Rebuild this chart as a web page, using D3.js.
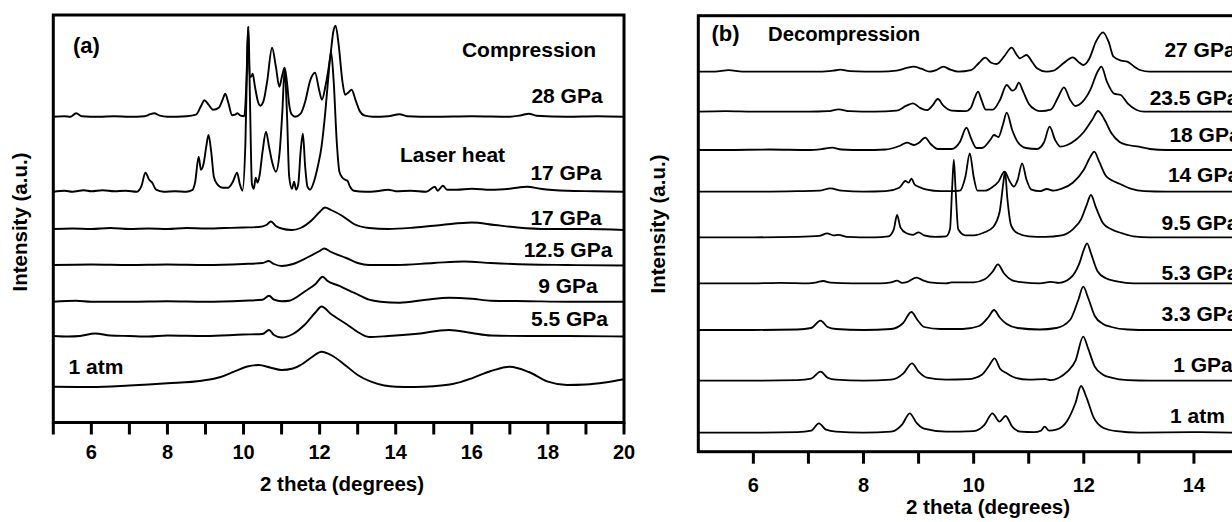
<!DOCTYPE html>
<html>
<head>
<meta charset="utf-8">
<script src="https://cdn.jsdelivr.net/npm/d3@7"></script>
<style>
    body { margin: 0; background: #fff; }
    svg text { font-family: 'Liberation Sans', Arial, sans-serif; font-weight: bold; fill: #000; }
</style>
</head>
<body>
<svg></svg>
<script>
const width = 1232;
const height = 522;

// ---- panel (a): compression, [2theta, intensity above baseline] ----
const a28 = [[5,0],[5.3,0.5],[5.45,0],[5.6,3.5],[5.75,0.5],[6.2,0],[6.6,0.5],[7,0],[7.4,0.5],[7.55,2.5],[7.65,3.5],[7.8,1],[8,0],[8.5,0.5],[8.75,2],[8.9,12],[8.97,16.5],[9.08,12],[9.2,7],[9.35,9],[9.45,17],[9.52,23],[9.6,14],[9.7,1.5],[9.78,2],[9.84,3.5],[9.92,1],[10.02,0.5],[10.08,40],[10.12,90],[10.16,40],[10.2,40],[10.24,43],[10.3,30],[10.38,15],[10.44,11],[10.52,15],[10.62,35],[10.75,69],[10.85,50],[10.94,30],[11.02,42],[11.08,49],[11.14,35],[11.2,12],[11.27,2],[11.36,0],[11.5,3],[11.62,15],[11.75,36],[11.88,44],[11.98,28],[12.06,17],[12.15,30],[12.28,60],[12.36,85],[12.42,91],[12.5,72],[12.6,35],[12.67,22],[12.75,24],[12.84,27],[12.95,16],[13.05,6],[13.19,1],[13.4,0],[13.8,0.5],[14.1,2.5],[14.3,0.5],[15,0],[16,0.5],[17,0],[17.3,1.5],[17.5,3],[17.7,1],[18.5,0],[19.3,0.5],[20,0]];
const a17heat = [[5,0],[5.3,1],[5.5,0],[5.8,1.5],[6,0.5],[6.3,1.5],[6.6,0.5],[6.9,1],[7.2,0],[7.32,6],[7.42,19],[7.52,12],[7.6,9],[7.7,2],[7.9,0],[8.2,0.5],[8.5,0],[8.65,1.5],[8.73,10],[8.82,35],[8.88,22],[8.95,28],[9.02,45],[9.08,56.7],[9.15,40],[9.22,15],[9.3,8],[9.45,4],[9.6,4],[9.72,10],[9.83,19],[9.9,8],[9.97,1],[10.05,50],[10.1,140],[10.13,165],[10.17,90],[10.22,8],[10.27,3],[10.32,14],[10.37,9],[10.42,16],[10.5,40],[10.59,60],[10.67,45],[10.75,30],[10.85,20],[10.95,40],[11.02,80],[11.08,122],[11.14,80],[11.2,15],[11.27,3],[11.33,10],[11.38,2],[11.44,8],[11.5,40],[11.56,58],[11.62,25],[11.68,5],[11.75,2],[11.85,10],[11.95,25],[12.05,45],[12.15,80],[12.23,115],[12.3,140],[12.37,110],[12.45,50],[12.52,20],[12.6,14],[12.67,12],[12.73,11],[12.8,5],[12.9,1],[13.2,0],[13.5,0.5],[13.8,2],[14,0.5],[14.4,1],[14.8,0],[15.03,5],[15.1,1],[15.24,6],[15.35,2],[15.6,2],[16,3],[16.5,2],[17,3],[17.46,5],[17.8,3],[18.5,1],[19.2,0.5],[20,0]];
const a17 = [[5,0],[5.5,0.5],[6,0],[6.5,1],[7,0],[7.5,0.5],[8,0],[8.5,1],[9,0.5],[9.5,1],[10,1.5],[10.4,2],[10.6,4],[10.72,7.5],[10.85,3],[11,0.5],[11.27,-1],[11.5,1],[11.8,9],[12,17],[12.14,21.5],[12.3,19],[12.6,13],[12.9,5],[13.3,1],[13.8,0],[14.5,1.5],[15.2,4],[16,6.5],[16.6,4],[17.2,1.5],[18,0],[19,0],[20,-1]];
const a12_5 = [[5,0],[6,0.5],[7,0],[8,0.5],[9,0],[10,1],[10.5,2],[10.66,4],[10.8,1],[11,-1],[11.3,1],[11.7,8],[12,14],[12.12,16.5],[12.3,13],[12.7,7],[13,2],[13.3,0],[14,0],[15,2],[15.8,3.5],[16.5,2],[17.5,0.5],[18.5,0],[20,-0.5]];
const a9 = [[5,0],[5.6,1],[6,0],[7,0],[8,0.5],[9,0],[10,1],[10.5,2],[10.67,6],[10.8,2],[11,0.5],[11.2,1],[11.6,10],[11.9,18],[12.08,25],[12.2,21],[12.5,16],[12.9,9],[13.3,2],[13.6,0],[14.1,-1],[14.8,2],[15.4,4],[16,3],[16.5,1],[17.5,0.5],[18.5,0],[20,0]];
const a5_5 = [[5,0],[5.4,-0.5],[5.7,0],[6.1,2.5],[6.5,0.5],[7,0],[7.5,-0.5],[8,0.5],[9,0],[10,1.5],[10.5,2],[10.67,6],[10.8,1],[11,-1.5],[11.3,2],[11.6,11],[11.9,24],[12.05,29.5],[12.3,22],[12.7,12],[13,4],[13.3,-1],[13.8,0],[14.5,2],[15.4,6],[16,3],[16.5,0.5],[17.5,0],[18.5,0],[20,-0.5]];
const a1atm = [[5,0.3],[6,0],[7,1.5],[8,3.7],[8.9,6.3],[9.4,10],[9.75,15.3],[10.1,20.5],[10.4,22],[10.7,19.5],[11,17],[11.3,18.5],[11.5,22],[11.8,30],[12.05,35.3],[12.3,32],[12.7,21],[13,12],[13.35,5.3],[13.7,1.5],[14,0.3],[14.5,0],[15,0.8],[15.5,3],[16,8.7],[16.5,16],[17,20.3],[17.5,15],[18,5.3],[18.5,2],[19,2.5],[19.5,4.5],[20,7.7]];

const seriesA = [a28, a17heat, a17, a12_5, a9, a5_5, a1atm];
const offsetsA = [305.8, 230.8, 193.5, 157.5, 120.8, 86.5, 35.5];
const labelsA = ['28 GPa', '17 GPa', '17 GPa', '12.5 GPa', '9 GPa', '5.5 GPa', '1 atm'];
const ticksA = [6, 8, 10, 12, 14, 16, 18, 20];

// ---- panel (b): decompression ----
const b27 = [[5,0],[5.3,0],[5.55,1.5],[5.8,0],[6.5,0],[7.2,0],[7.45,1],[7.58,2],[7.75,0.5],[8.3,0],[8.6,1],[8.8,4],[8.91,5],[9.05,3],[9.2,0],[9.32,1.5],[9.45,5],[9.58,2],[9.72,0],[9.95,1.5],[10.1,9],[10.21,14],[10.32,9],[10.42,7.7],[10.55,15],[10.69,24],[10.78,17],[10.84,13.4],[10.96,16.7],[11.06,10],[11.15,3.4],[11.32,0],[11.45,1],[11.63,8.4],[11.8,14.4],[11.92,9],[11.99,6.7],[12.1,13],[12.22,30],[12.35,39.4],[12.45,30],[12.54,15],[12.68,11],[12.79,10],[12.92,5],[13.02,1.7],[13.2,0],[14,0],[15,0]];
const b23_5 = [[5,0],[5.5,0.5],[6,0],[7,0],[7.35,0.5],[7.55,2.4],[7.75,0.5],[8.2,0],[8.6,1],[8.78,6],[8.9,8.4],[9.02,4],[9.15,1.5],[9.25,6],[9.35,12.7],[9.45,6],[9.6,1],[9.85,0.5],[9.95,4],[10.02,14],[10.08,20],[10.14,12],[10.22,2],[10.35,2],[10.48,12],[10.6,26.7],[10.7,21],[10.76,23],[10.82,29],[10.9,20],[11,8],[11.12,2],[11.22,0.5],[11.4,2],[11.53,14],[11.64,24.4],[11.75,12],[11.85,5.7],[11.98,10],[12.12,22],[12.25,40],[12.32,45],[12.42,30],[12.55,18],[12.67,16.7],[12.8,8],[12.95,2],[13.1,0],[14,0],[15,0]];
const b18 = [[5,0],[5.5,0],[6.3,0.5],[7,0],[7.25,1],[7.43,2.3],[7.6,0.5],[8,0],[8.4,0.5],[8.65,4],[8.79,7.3],[8.92,5],[9,7],[9.12,12.3],[9.22,6],[9.35,1],[9.6,1],[9.75,8],[9.87,22.3],[9.95,12],[10.05,2],[10.15,2],[10.3,10],[10.37,15],[10.45,13],[10.53,25],[10.6,37.3],[10.7,20],[10.8,8],[10.95,2],[11.15,1],[11.28,8],[11.38,23.3],[11.48,10],[11.58,3.3],[11.7,5],[11.85,10],[12,18],[12.15,30],[12.26,39],[12.38,30],[12.5,17],[12.65,8],[12.8,5],[13,3.3],[13.2,1],[13.5,0],[15,0]];
const b14 = [[5,0],[6,0],[6.8,0.5],[7.2,1],[7.4,3.4],[7.6,1],[8,0],[8.4,0.5],[8.65,4],[8.76,10.7],[8.82,9],[8.87,13],[8.93,7],[9,5],[9.15,2],[9.4,0.5],[9.6,0.5],[9.75,1],[9.85,15],[9.93,38.4],[10,15],[10.07,1],[10.2,1],[10.35,5],[10.45,10],[10.56,20],[10.66,10],[10.73,5],[10.8,12],[10.88,28.4],[10.96,12],[11.05,2],[11.2,0.5],[11.33,2.7],[11.45,1],[11.6,3],[11.8,9],[12,22],[12.12,35],[12.19,40],[12.28,30],[12.4,16],[12.5,11.7],[12.65,8],[12.85,3],[13.1,0.5],[13.5,0],[15,0]];
const b9_5 = [[5,0],[6,0],[6.8,0.5],[7.2,1.5],[7.34,4],[7.45,2],[7.55,2.5],[7.7,0.5],[8.2,0],[8.45,1],[8.55,8],[8.61,22.3],[8.67,10],[8.78,4],[8.9,2.5],[9,5],[9.1,2],[9.3,0.5],[9.5,1],[9.57,8],[9.61,50],[9.64,77.3],[9.67,50],[9.72,8],[9.85,2],[10,2],[10.2,5],[10.35,10],[10.47,25],[10.54,55],[10.57,65.6],[10.61,40],[10.68,12],[10.8,4],[11,1],[11.3,0.5],[11.6,2],[11.8,8],[11.95,18],[12.05,32],[12.13,42.3],[12.22,30],[12.35,14],[12.5,8],[12.7,4],[12.9,1],[13.2,0],[15,0]];
const b5_3 = [[5,0],[6,0],[6.5,0.5],[7,0],[7.15,1],[7.27,2.3],[7.4,0.7],[7.8,0],[8.3,0],[8.5,1],[8.61,2.6],[8.7,0.5],[8.8,1.5],[8.96,5.6],[9.08,3],[9.2,1],[9.5,0],[9.6,1],[10,1],[10.2,4],[10.35,12],[10.44,19],[10.55,10],[10.7,3],[10.9,1],[11.2,0],[11.4,1.5],[11.55,0.5],[11.75,5],[11.92,20],[12.01,35],[12.06,40],[12.13,30],[12.25,12],[12.4,5],[12.6,2],[12.9,0],[15,0]];
const b3_3 = [[5,0],[6,0],[6.8,0.5],[7.05,2],[7.22,9.3],[7.35,3],[7.5,1],[8,0],[8.5,1],[8.72,7],[8.87,18],[8.98,10],[9.1,3],[9.4,1],[9.8,1],[10.1,4],[10.27,13],[10.37,20],[10.48,12],[10.6,6],[10.8,2],[11.2,0.5],[11.5,2],[11.75,10],[11.9,30],[11.99,43.3],[12.08,32],[12.2,14],[12.35,6],[12.5,3],[12.8,0.5],[13.2,0],[15,0]];
const b1 = [[5,0],[6,0],[6.8,0.5],[7.05,2],[7.22,9],[7.35,3],[7.5,1],[8,0],[8.5,1],[8.72,7],[8.88,17.4],[9,9],[9.15,3],[9.5,1],[9.9,1.5],[10.15,6],[10.28,15],[10.38,22.4],[10.48,12],[10.6,7.4],[10.75,3],[11,1],[11.3,1.5],[11.4,0.5],[11.55,3],[11.7,9],[11.85,20],[11.99,44],[12.08,32],[12.2,14],[12.35,6],[12.5,3],[12.8,0.5],[13.2,0],[15,0]];
const b1atm = [[5,0],[6,0],[6.8,0.5],[7.05,2],[7.19,9.4],[7.32,3],[7.5,1],[8,0],[8.5,1],[8.7,8],[8.84,19.4],[8.96,10],[9.1,4],[9.5,1],[10,1.5],[10.2,8],[10.34,19.4],[10.47,11],[10.58,16.7],[10.7,6],[10.85,1],[11.1,0.5],[11.22,2],[11.29,6],[11.37,2],[11.5,3],[11.7,12],[11.85,30],[11.95,46.7],[12.05,35],[12.18,15],[12.35,5],[12.6,1.5],[13,0],[14,0.5],[15,0]];

const seriesB = [b27, b23_5, b18, b14, b9_5, b5_3, b3_3, b1, b1atm];
const offsetsB = [380, 340, 301.7, 260, 214.4, 168.4, 121.7, 71, 19];
const labelsB = ['27 GPa', '23.5 GPa', '18 GPa', '14 GPa', '9.5 GPa', '5.3 GPa', '3.3 GPa', '1 GPa', '1 atm'];
const ticksB = [6, 8, 10, 12, 14];

// ---- layout ----
const panelA = {
    x: d3.scaleLinear().domain([5, 20]).range([53.3, 624]),
    y: d3.scaleLinear().domain([0, 407.5]).range([422.5, 15]),
    minor: d3.range(5, 21),
    tickLabelY: 458.5,
    titleX: 342, titleY: 491,
    yTitleX: 27, yTitleY: 222,
    strokeWidth: 1.9
};
const panelB = {
    x: d3.scaleLinear().domain([5, 15]).range([698.3, 1249]),
    y: d3.scaleLinear().domain([0, 436]).range([451.7, 15.7]),
    minor: d3.range(6, 15),
    tickLabelY: 491.7,
    titleX: 988, titleY: 514,
    yTitleX: 665, yTitleY: 224,
    strokeWidth: 1.8
};
// label baselines in pixels, centre x
const labelPosA = [[567, 102.7], [566, 180], [566, 225], [568, 256.7], [568, 293.3], [569.5, 326], [96, 374]];
const labelPosB = [[1200, 56.7], [1194, 105], [1205, 141.7], [1203.5, 181.7], [1200, 230], [1200, 280], [1200, 320.7], [1203, 371.7], [1197.5, 423.3]];

const svg = d3.select('svg')
    .attr('width', width)
    .attr('height', height);

const drawPanel = (p, series, offsets, ticks) => {
    const g = svg.append('g');
    const [x0, x1] = p.x.range();
    const [yb, yt] = p.y.range();

    const line = d3.line()
        .x(d => p.x(d[0]))
        .y(d => p.y(d[1]))
        .curve(d3.curveMonotoneX);

    g.selectAll('path.trace')
        .data(series)
        .enter().append('path')
        .attr('class', 'trace')
        .attr('d', (d, i) => line(d.map(v => [v[0], v[1] + offsets[i]])))
        .attr('fill', 'none')
        .attr('stroke', '#000')
        .attr('stroke-width', p.strokeWidth)
        .attr('stroke-linejoin', 'round');

    // frame
    g.append('rect')
        .attr('x', x0).attr('y', yt)
        .attr('width', x1 - x0).attr('height', yb - yt)
        .attr('fill', 'none')
        .attr('stroke', '#000')
        .attr('stroke-width', 3);

    // ticks (outside, every integer)
    g.selectAll('line.tick')
        .data(p.minor)
        .enter().append('line')
        .attr('class', 'tick')
        .attr('x1', d => p.x(d)).attr('x2', d => p.x(d))
        .attr('y1', yb).attr('y2', yb + 12)
        .attr('stroke', '#000')
        .attr('stroke-width', 3);

    g.selectAll('text.ticklabel')
        .data(ticks)
        .enter().append('text')
        .attr('class', 'ticklabel')
        .attr('x', d => p.x(d))
        .attr('y', p.tickLabelY)
        .attr('text-anchor', 'middle')
        .style('font-size', '20px')
        .text(d => d);

    g.append('text')
        .attr('x', p.titleX).attr('y', p.titleY)
        .attr('text-anchor', 'middle')
        .style('font-size', '20.5px')
        .text('2 theta (degrees)');

    g.append('text')
        .attr('transform', `translate(${p.yTitleX},${p.yTitleY}) rotate(-90)`)
        .attr('text-anchor', 'middle')
        .style('font-size', '20.5px')
        .text('Intensity (a.u.)');

    return g;
};

const gA = drawPanel(panelA, seriesA, offsetsA, ticksA);
const gB = drawPanel(panelB, seriesB, offsetsB, ticksB);

gA.selectAll('text.label')
    .data(labelsA)
    .enter().append('text')
    .attr('class', 'label')
    .attr('x', (d, i) => labelPosA[i][0])
    .attr('y', (d, i) => labelPosA[i][1])
    .attr('text-anchor', 'middle')
    .style('font-size', '21px')
    .text(d => d);

gA.append('text').attr('x', 73).attr('y', 53).style('font-size', '22px').text('(a)');
gA.append('text').attr('x', 529).attr('y', 56.7).attr('text-anchor', 'middle').style('font-size', '21px').text('Compression');
gA.append('text').attr('x', 400).attr('y', 161.7).style('font-size', '21px').text('Laser heat');

gB.selectAll('text.label')
    .data(labelsB)
    .enter().append('text')
    .attr('class', 'label')
    .attr('x', (d, i) => labelPosB[i][0])
    .attr('y', (d, i) => labelPosB[i][1])
    .attr('text-anchor', 'middle')
    .style('font-size', '21px')
    .text(d => d);

gB.append('text').attr('x', 711.5).attr('y', 40.5).style('font-size', '22px').text('(b)');
gB.append('text').attr('x', 768).attr('y', 41).style('font-size', '20.3px').text('Decompression');
</script>
</body>
</html>
